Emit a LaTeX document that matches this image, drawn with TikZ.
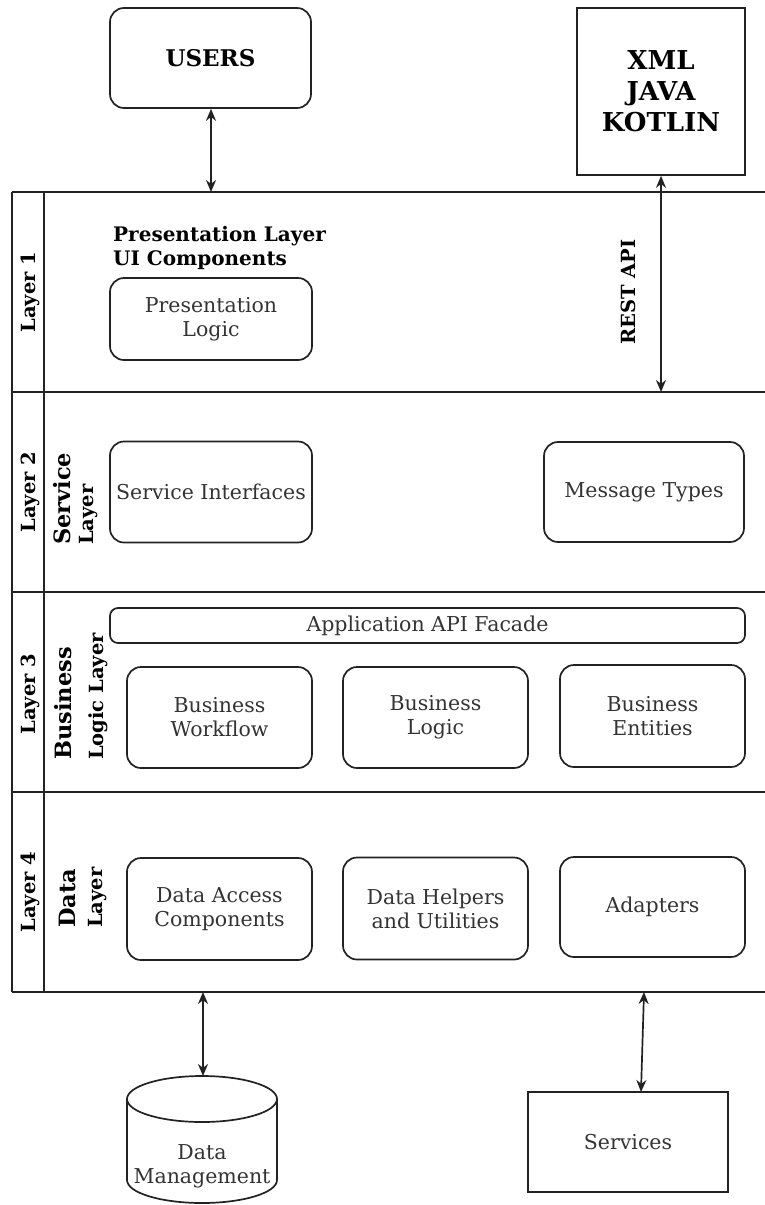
\documentclass[tikz,border=0pt]{standalone}
\usepackage{fontspec}
\setmainfont{DejaVu Serif}
\usetikzlibrary{arrows.meta}
\newcommand{\fsz}[2]{\fontsize{#1}{#2}\selectfont}
\definecolor{inkline}{HTML}{222222}
\definecolor{inktext}{HTML}{333333}

\begin{document}
\begin{tikzpicture}[x=1pt,y=-1pt,
  frame/.style={draw=inkline,line width=1.8pt},
  rbox/.style={draw=inkline,line width=1.7pt,rounded corners=14pt,align=center,
    text=inktext,font=\fsz{20.5}{24},inner sep=0pt,minimum width=#1},
  sbox/.style={draw=inkline,line width=1.7pt,align=center,inner sep=0pt,minimum width=#1},
  layerlbl/.style={rotate=90,font=\bfseries\fsz{19.5}{23},inner sep=0pt},
  headlbl/.style={rotate=90,anchor=west,font=\bfseries\fsz{22.5}{26},inner sep=0pt},
  sublbl/.style={rotate=90,anchor=west,font=\bfseries\fsz{19.5}{23},inner sep=0pt},
  arr/.style={draw=inkline,line width=1.7pt,{Stealth[length=12pt,width=10pt]}-{Stealth[length=12pt,width=10pt]}}
]
\useasboundingbox (0,0) rectangle (765,1205);
\fill[white] (0,0) rectangle (765,1205);

% layer frame
\draw[frame] (12,192) -- (765,192);
\draw[frame] (12,392) -- (765,392);
\draw[frame] (12,592) -- (765,592);
\draw[frame] (12,792) -- (765,792);
\draw[frame] (12,992) -- (765,992);
\draw[frame] (12,192) -- (12,992);
\draw[frame] (44,192) -- (44,992);

% layer titles
\node[layerlbl] (l1) at (30,292) {Layer 1};
\node[layerlbl] (l2) at (30,492) {Layer 2};
\node[layerlbl] (l3) at (30,694) {Layer 3};
\node[layerlbl] (l4) at (30,892) {Layer 4};

\node[headlbl] (svc) at (62,545) {Service};
\node[sublbl]  (svcl) at (89,545) {Layer};
\node[headlbl] (bus) at (63,760) {Business};
\node[sublbl]  (busl) at (98,760) {Logic Layer};
\node[headlbl] (dat) at (67,928) {Data};
\node[sublbl]  (datl) at (98,928) {Layer};

% top boxes
\node[rbox=201pt,minimum height=100pt,text=black,font=\bfseries\fsz{23}{26}] (users) at (210.5,58) {USERS};
\node[sbox=168pt,minimum height=167pt,font=\bfseries\fsz{26}{31}] (langs) at (661,91.5) {XML\\JAVA\\KOTLIN};

% layer 1
\node[anchor=base west,align=left,font=\bfseries\fsz{20}{23.5},inner sep=0pt] (pres) at (113,265) {Presentation Layer\\UI Components};
\node[rbox=202pt,minimum height=82pt] (plogic) at (211,319) {Presentation\\Logic};
\node[layerlbl] (rest) at (628,292) {REST API};

% layer 2
\node[rbox=202pt,minimum height=101pt] (sint) at (211,492) {Service Interfaces};
\node[rbox=200pt,minimum height=100pt] (mtypes) at (644,492) {Message Types};

% layer 3
\node[rbox=635pt,minimum height=35pt,rounded corners=8pt] (facade) at (427.5,625.5) {Application API Facade};
\node[rbox=185pt,minimum height=101pt] (bwf) at (219.5,717.5) {Business\\Workflow};
\node[rbox=185pt,minimum height=101pt] (blogic) at (435.5,717.5) {Business\\Logic};
\node[rbox=185pt,minimum height=102pt] (bent) at (652.5,716) {Business\\Entities};

% layer 4
\node[rbox=185pt,minimum height=102pt] (dac) at (219.5,909) {Data Access\\Components};
\node[rbox=185pt,minimum height=102pt] (dhu) at (435.5,908.5) {Data Helpers\\and Utilities};
\node[rbox=185pt,minimum height=100pt] (adapt) at (652.5,907) {Adapters};

% storage cylinder
\draw[frame,line width=1.7pt] (202,1099) ellipse [x radius=75, y radius=23];
\draw[frame,line width=1.7pt] (127,1099) -- (127,1180) arc[start angle=180,end angle=0,x radius=75,y radius=23] -- (277,1099);
\node[align=center,text=inktext,font=\fsz{20.5}{24},inner sep=0pt] (dm) at (202,1166) {Data\\Management};
\coordinate (dmtop) at (203,1076);

% external services
\node[sbox=200pt,minimum height=100pt,text=inktext,font=\fsz{20.5}{24}] (services) at (628,1142) {Services};
\coordinate (svtop) at (641,1092);

% connectors
\coordinate (l1a) at (211,192);
\coordinate (l2a) at (661,392);
\coordinate (l4a) at (203,992);
\coordinate (l4b) at (644,992);
\draw[arr] (users.south -| l1a) -- (l1a);
\draw[arr] (langs.south) -- (l2a);
\draw[arr] (l4a) -- (dmtop);
\draw[arr] (l4b) -- (svtop);
\end{tikzpicture}
\end{document}
